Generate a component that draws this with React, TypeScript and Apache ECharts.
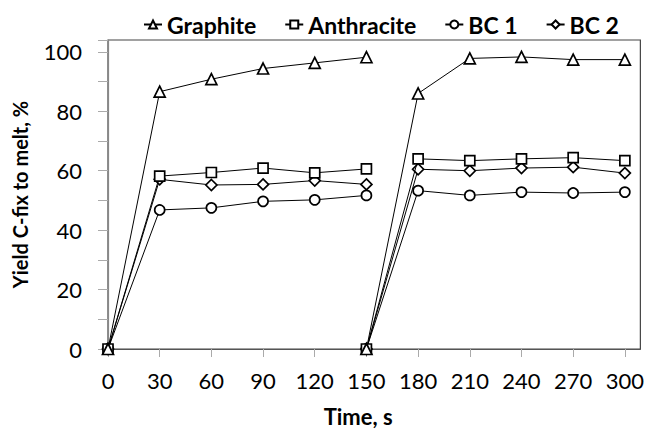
import React, { useEffect, useRef } from "react";
import * as echarts from "echarts";

const xFirst = [0, 30, 60, 90, 120, 150];
const xSecond = [150, 180, 210, 240, 270, 300];

const graphite1 = [0, 86.6, 90.8, 94.4, 96.3, 98.2];
const graphite2 = [0, 86.0, 97.8, 98.3, 97.4, 97.4];
const anthracite1 = [0, 58.2, 59.4, 60.9, 59.3, 60.6];
const anthracite2 = [0, 64.0, 63.4, 64.0, 64.4, 63.4];
const bc1First = [0, 46.8, 47.5, 49.7, 50.2, 51.7];
const bc1Second = [0, 53.3, 51.7, 52.8, 52.5, 52.8];
const bc2First = [0, 57.1, 55.2, 55.4, 56.7, 55.4];
const bc2Second = [0, 60.5, 60.0, 60.9, 61.2, 59.2];

const seriesNames = ["Graphite", "Anthracite", "BC 1", "BC 2"];
const symbols = ["triangle", "rect", "circle", "diamond"];
const symbolSizes = [11, 10, 10, 11];

const FONT = "Lato";

function pairs(xs: number[], ys: number[]) {
  return xs.map((x, i) => [x, ys[i]]);
}

export default function App() {
  const ref = useRef<HTMLDivElement>(null);
  useEffect(() => {
    if (!ref.current) return;
    const chart = echarts.init(ref.current, undefined, { renderer: "svg" });
    const segs = [
      [graphite1, graphite2],
      [anthracite1, anthracite2],
      [bc1First, bc1Second],
      [bc2First, bc2Second],
    ];
    const series: any[] = [];
    segs.forEach((pair, k) => {
      [xFirst, xSecond].forEach((xs, j) => {
        series.push({
          name: seriesNames[k],
          type: "line",
          data: pairs(xs, pair[j]),
          symbol: symbols[k],
          symbolSize: symbolSizes[k],
          showAllSymbol: true,
          lineStyle: { color: "#000", width: 1 },
          itemStyle: { color: "#fff", borderColor: "#000", borderWidth: 1.7 },
          z: 10 - k,
        });
      });
    });
    chart.setOption({
      animation: false,
      backgroundColor: "#fff",
      legend: {
        top: 8,
        left: 138,
        itemGap: 28,
        itemWidth: 18,
        itemHeight: 10,
        data: seriesNames,
        textStyle: { fontFamily: FONT, fontSize: 23, fontWeight: "bold", color: "#000" },
      },
      grid: {
        left: 108,
        top: 40,
        right: 4,
        bottom: 79,
        show: true,
        borderColor: "#444",
        borderWidth: 1.2,
      },
      xAxis: {
        type: "value",
        min: 0,
        max: 309,
        interval: 30,
        name: "Time, s",
        nameLocation: "middle",
        nameGap: 56,
        nameTextStyle: { fontFamily: FONT, fontSize: 22, fontWeight: "bold", color: "#000", padding: [0, 32, 0, 0] },
        axisLine: { show: true, lineStyle: { color: "#555", width: 1.2 } },
        axisTick: { show: true, length: 8, lineStyle: { color: "#aaa" } },
        axisLabel: { showMaxLabel: false, margin: 20, fontFamily: FONT, fontSize: 22, color: "#000" },
        splitLine: { show: false },
      },
      yAxis: {
        type: "value",
        min: 0,
        max: 104,
        interval: 20,
        name: "Yield C-fix to melt, %",
        nameLocation: "middle",
        nameGap: 78,
        nameTextStyle: { fontFamily: FONT, fontSize: 20, fontWeight: "bold", color: "#000" },
        axisLine: { show: true, lineStyle: { color: "#888", width: 1.2 } },
        axisTick: { show: true, length: 10, lineStyle: { color: "#aaa" } },
        minorTick: { show: true, splitNumber: 2, length: 10, lineStyle: { color: "#aaa" } },
        axisLabel: { showMaxLabel: false, margin: 26, fontFamily: FONT, fontSize: 22, color: "#000" },
        splitLine: { show: false },
      },
      series,
    });
    return () => chart.dispose();
  }, []);
  return <div ref={ref} style={{ width: 647, height: 432, position: "absolute", left: 0, top: 0 }} />;
}
